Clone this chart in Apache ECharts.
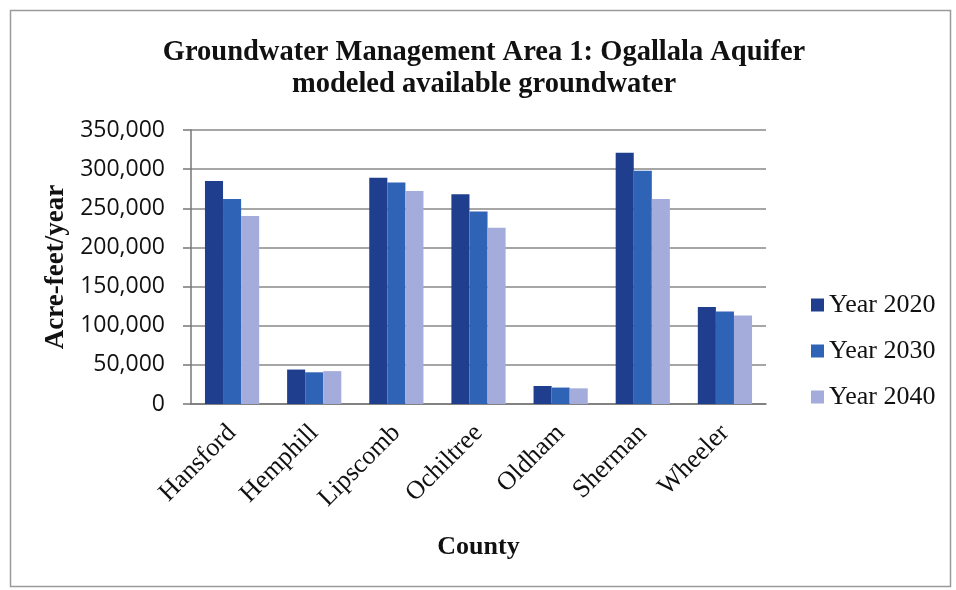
<!DOCTYPE html>
<html>
<head>
<meta charset="utf-8">
<script src="https://cdn.jsdelivr.net/npm/echarts@6/dist/echarts.min.js"></script>
<style>
html,body{margin:0;padding:0;background:#fff;}
#c{width:956px;height:590px;}
</style>
</head>
<body>
<div id="c"></div>
<script>
const counties = ["Hansford","Hemphill","Lipscomb","Ochiltree","Oldham","Sherman","Wheeler"];
const year2020 = [285000, 44000, 289000, 268000, 23000, 321000, 124000];
const year2030 = [262000, 40500, 283000, 246000, 21000, 298000, 118000];
const year2040 = [240000, 42000, 272000, 225000, 20000, 262000, 113000];
const seriesNames = ["Year 2020","Year 2030","Year 2040"];
const yTicks = {min:0, max:350000, interval:50000};

const serif = "'Liberation Serif','DejaVu Serif',serif";
const sans = "'Open Sans','Liberation Sans',sans-serif";
const colors = ["#1f3e8e","#2e63b6","#a4acdb"];

const chart = echarts.init(document.getElementById('c'), null, {renderer:'canvas'});
chart.setOption({
  animation:false,
  backgroundColor:'#fff',
  color: colors,
  graphic:[{
    type:'rect', left:8, top:8, silent:true,
    shape:{width:940, height:576},
    style:{fill:'none', stroke:'#9a9a9a', lineWidth:1.5}
  }],
  title:{
    text:"Groundwater Management Area 1: Ogallala Aquifer\nmodeled available groundwater",
    left:479, top:32, textAlign:'center',
    textStyle:{fontFamily:serif, fontWeight:'bold', fontSize:28.5, lineHeight:32, color:'#111'}
  },
  legend:{
    orient:'vertical', left:806, top:287,
    itemWidth:13, itemHeight:13, itemGap:20, icon:'rect',
    textStyle:{fontFamily:serif, fontSize:26, color:'#111'},
    data: seriesNames
  },
  grid:{left:191, right:190, top:130, bottom:186, containLabel:false},
  xAxis:{
    type:'category', data:counties,
    axisTick:{show:false},
    axisLine:{lineStyle:{color:'#777', width:1.5}},
    axisLabel:{rotate:45, fontFamily:serif, fontSize:26, color:'#111', margin:25},
    name:'County', nameLocation:'middle', nameGap:130,
    nameTextStyle:{fontFamily:serif, fontWeight:'bold', fontSize:26, color:'#111'}
  },
  yAxis:{
    type:'value', min:yTicks.min, max:yTicks.max, interval:yTicks.interval,
    axisLine:{show:true, lineStyle:{color:'#777', width:1.5}},
    axisTick:{show:true, length:8, lineStyle:{color:'#777', width:1.5}},
    splitLine:{lineStyle:{color:'#888', width:1.5}},
    axisLabel:{fontFamily:sans, fontSize:23, color:'#111', margin:26,
      formatter:v=>v.toLocaleString('en-US')},
    name:'Acre-feet/year', nameLocation:'middle', nameGap:116, nameRotate:90,
    nameTextStyle:{fontFamily:serif, fontWeight:'bold', fontSize:27, color:'#111'}
  },
  series:[
    {name:seriesNames[0], type:'bar', data:year2020, barGap:'0%', barCategoryGap:'34%'},
    {name:seriesNames[1], type:'bar', data:year2030, barGap:'0%', barCategoryGap:'34%'},
    {name:seriesNames[2], type:'bar', data:year2040, barGap:'0%', barCategoryGap:'34%'}
  ]
});
</script>
</body>
</html>
